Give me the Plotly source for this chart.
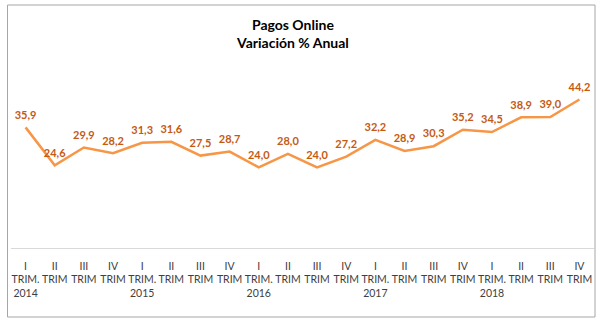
import plotly.graph_objects as go

quarters = ["I", "II", "III", "IV"] * 5
years = ["2014", "2015", "2016", "2017", "2018"]
values = [35.9, 24.6, 29.9, 28.2, 31.3, 31.6, 27.5, 28.7, 24.0, 28.0,
          24.0, 27.2, 32.2, 28.9, 30.3, 35.2, 34.5, 38.9, 39.0, 44.2]

tick_text = []
for i, q in enumerate(quarters):
    if q == "I":
        tick_text.append(f"{q}<br>TRIM.<br>{years[i // 4]}")
    else:
        tick_text.append(f"{q}<br>TRIM")
labels = [f"{v:.1f}".replace(".", ",") for v in values]
xs = list(range(len(values)))

W, H = 603, 325
L, R, T, B = 11, 9, 80, 77
pw, ph = W - L - R, H - T - B

def px_x(px):
    return (px - L) / pw

def px_y(py):
    return (H - B - py) / ph

fig = go.Figure()
fig.add_trace(go.Scatter(
    x=xs, y=values, mode="lines+markers+text",
    line=dict(color="#F79646", width=2.5),
    marker=dict(size=8, color="rgba(0,0,0,0)"),
    text=labels, textposition="top center",
    textfont=dict(family="Lato", size=11, color="#C55A11", weight="bold"),
    hoverinfo="skip", cliponaxis=False,
))

fig.update_layout(
    width=W, height=H,
    margin=dict(l=L, r=R, t=T, b=B),
    paper_bgcolor="white", plot_bgcolor="white",
    showlegend=False,
    font=dict(family="Lato"),
    xaxis=dict(
        range=[-0.5, len(values) - 0.5],
        tickmode="array", tickvals=xs, ticktext=tick_text,
        tickangle=0, automargin=False,
        showgrid=False, zeroline=False,
        showline=True, linecolor="#D9D9D9", linewidth=1,
        ticks="", tickfont=dict(family="Lato", size=10.5, color="#404040"),
        ticklabelstandoff=8,
    ),
    yaxis=dict(range=[0, 50], visible=False, showgrid=False, zeroline=False,
               automargin=False),
    shapes=[dict(
        type="rect", xref="paper", yref="paper",
        x0=px_x(7.5), x1=px_x(595), y0=px_y(317), y1=px_y(5),
        line=dict(color="#A6A6A6", width=1), fillcolor="rgba(0,0,0,0)",
    )],
    annotations=[dict(
        text="<b>Pagos Online<br>Variación % Anual</b>",
        xref="paper", yref="paper", x=px_x(292), y=px_y(14),
        xanchor="center", yanchor="top", showarrow=False,
        font=dict(family="Lato", size=14, color="#000000"),
    )],
)

fig.write_html("out.html")
